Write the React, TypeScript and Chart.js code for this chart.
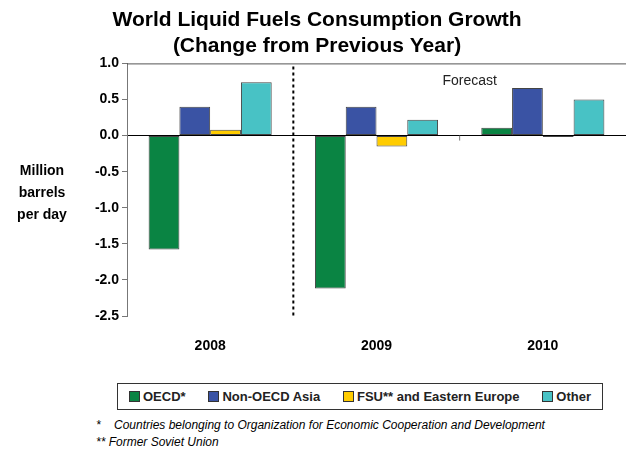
import React, { useEffect, useRef } from 'react';
import Chart from 'chart.js/auto';

const years = ['2008', '2009', '2010'];
const oecd = [-1.58, -2.12, 0.11];
const nonOecdAsia = [0.4, 0.4, 0.66];
const fsu = [0.08, -0.15, -0.02];
const other = [0.74, 0.22, 0.5];
const seriesNames = ['OECD*', 'Non-OECD Asia', 'FSU** and Eastern Europe', 'Other'];
const colors = ['#0a8443', '#3a53a4', '#ffcc00', '#48c2c5'];

const font = 'Arial, "Liberation Sans", sans-serif';

const extras = {
  id: 'extras',
  afterDraw(chart: any) {
    const { ctx, chartArea } = chart;
    const x = chart.scales.x;
    const y = chart.scales.y;
    ctx.save();
    // top frame line
    ctx.strokeStyle = '#555';
    ctx.lineWidth = 1;
    ctx.beginPath();
    ctx.moveTo(chartArea.left, chartArea.top + 0.5);
    ctx.lineTo(chartArea.right, chartArea.top + 0.5);
    ctx.stroke();
    // dotted separator
    const sx = x.getPixelForValue(0.5);
    ctx.strokeStyle = '#000';
    ctx.lineWidth = 2;
    ctx.setLineDash([3, 3]);
    ctx.beginPath();
    ctx.moveTo(sx, chartArea.top + 3);
    ctx.lineTo(sx, chartArea.bottom);
    ctx.stroke();
    ctx.setLineDash([]);
    // small tick
    const tx = x.getPixelForValue(1.5);
    const zy = y.getPixelForValue(0);
    ctx.strokeStyle = '#777';
    ctx.lineWidth = 1;
    ctx.beginPath();
    ctx.moveTo(tx, zy);
    ctx.lineTo(tx, zy + 5);
    ctx.stroke();
    ctx.fillStyle = '#222';
    ctx.font = `14px ${font}`;
    ctx.textAlign = 'center';
    ctx.fillText('Forecast', tx + 10, y.getPixelForValue(0.7));
    // y title
    ctx.font = `bold 14px ${font}`;
    ctx.fillStyle = '#000';
    ['Million', 'barrels', 'per day'].forEach((t, i) => ctx.fillText(t, 34, 167 + i * 22));
    ctx.restore();
  },
};

export default function App() {
  const canvasRef = useRef<HTMLCanvasElement>(null);

  useEffect(() => {
    if (!canvasRef.current) return;
    const data = [oecd, nonOecdAsia, fsu, other];
    const chart = new Chart(canvasRef.current, {
      type: 'bar',
      data: {
        labels: years,
        datasets: data.map((d, i) => ({
          label: seriesNames[i],
          data: d,
          backgroundColor: colors[i],
          borderColor: '#444',
          borderWidth: 1,
          borderSkipped: false,
          categoryPercentage: 0.74,
          barPercentage: 1,
        })),
      },
      options: {
        animation: false,
        responsive: true,
        maintainAspectRatio: false,
        layout: { padding: { left: 0, right: 2, top: 0, bottom: 0 } },
        scales: {
          x: {
            grid: { display: false },
            border: { display: false },
            ticks: { color: '#000', font: { family: font, size: 14, weight: 'bold' }, padding: 14 },
            afterFit: (s: any) => { s.height = 52; },
          },
          y: {
            min: -2.5,
            max: 1.0,
            ticks: {
              stepSize: 0.5,
              color: '#000',
              font: { family: font, size: 14, weight: 'bold' },
              callback: (v: any) => Number(v).toFixed(1),
            },
            grid: {
              color: (c: any) => (c.tick && c.tick.value === 0 ? '#000' : 'rgba(0,0,0,0)'),
              tickColor: '#777',
              tickLength: 5,
            },
            border: { color: '#777' },
            afterFit: (s: any) => { s.width = 119; },
          },
        },
        plugins: {
          title: {
            display: true,
            text: ['World Liquid Fuels Consumption Growth', '(Change from Previous Year)'],
            color: '#000',
            font: { family: font, size: 21, weight: 'bold' },
            padding: { top: 0, bottom: 5 },
            lineHeight: 1.3,
          },
          legend: { display: false },
          tooltip: { enabled: false },
        },
      },
      plugins: [extras],
    });
    return () => chart.destroy();
  }, []);

  return (
    <div style={{ width: 620, fontFamily: font }}>
      <div style={{ position: 'relative', height: 360 }}>
        <canvas ref={canvasRef}></canvas>
      </div>
      <div
        style={{
          marginTop: 15,
          marginLeft: 109,
          width: 462,
          height: 25,
          border: '1px solid #333',
          display: 'flex',
          alignItems: 'center',
          justifyContent: 'space-between',
          padding: '0 11px',
          boxSizing: 'content-box',
          fontSize: 13,
          fontWeight: 'bold',
          color: '#222',
        }}
      >
        {seriesNames.map((n, i) => (
          <span key={n} style={{ display: 'flex', alignItems: 'center' }}>
            <span style={{ width: 9, height: 9, background: colors[i], border: '1px solid #333', marginRight: 3 }} />
            {n}
          </span>
        ))}
      </div>
      <div style={{ fontSize: 12, fontStyle: 'italic', marginLeft: 88, marginTop: 7, lineHeight: '17px' }}>
        <div>*&nbsp;&nbsp;&nbsp; Countries belonging to Organization for Economic Cooperation and Development</div>
        <div>** Former Soviet Union</div>
      </div>
    </div>
  );
}
